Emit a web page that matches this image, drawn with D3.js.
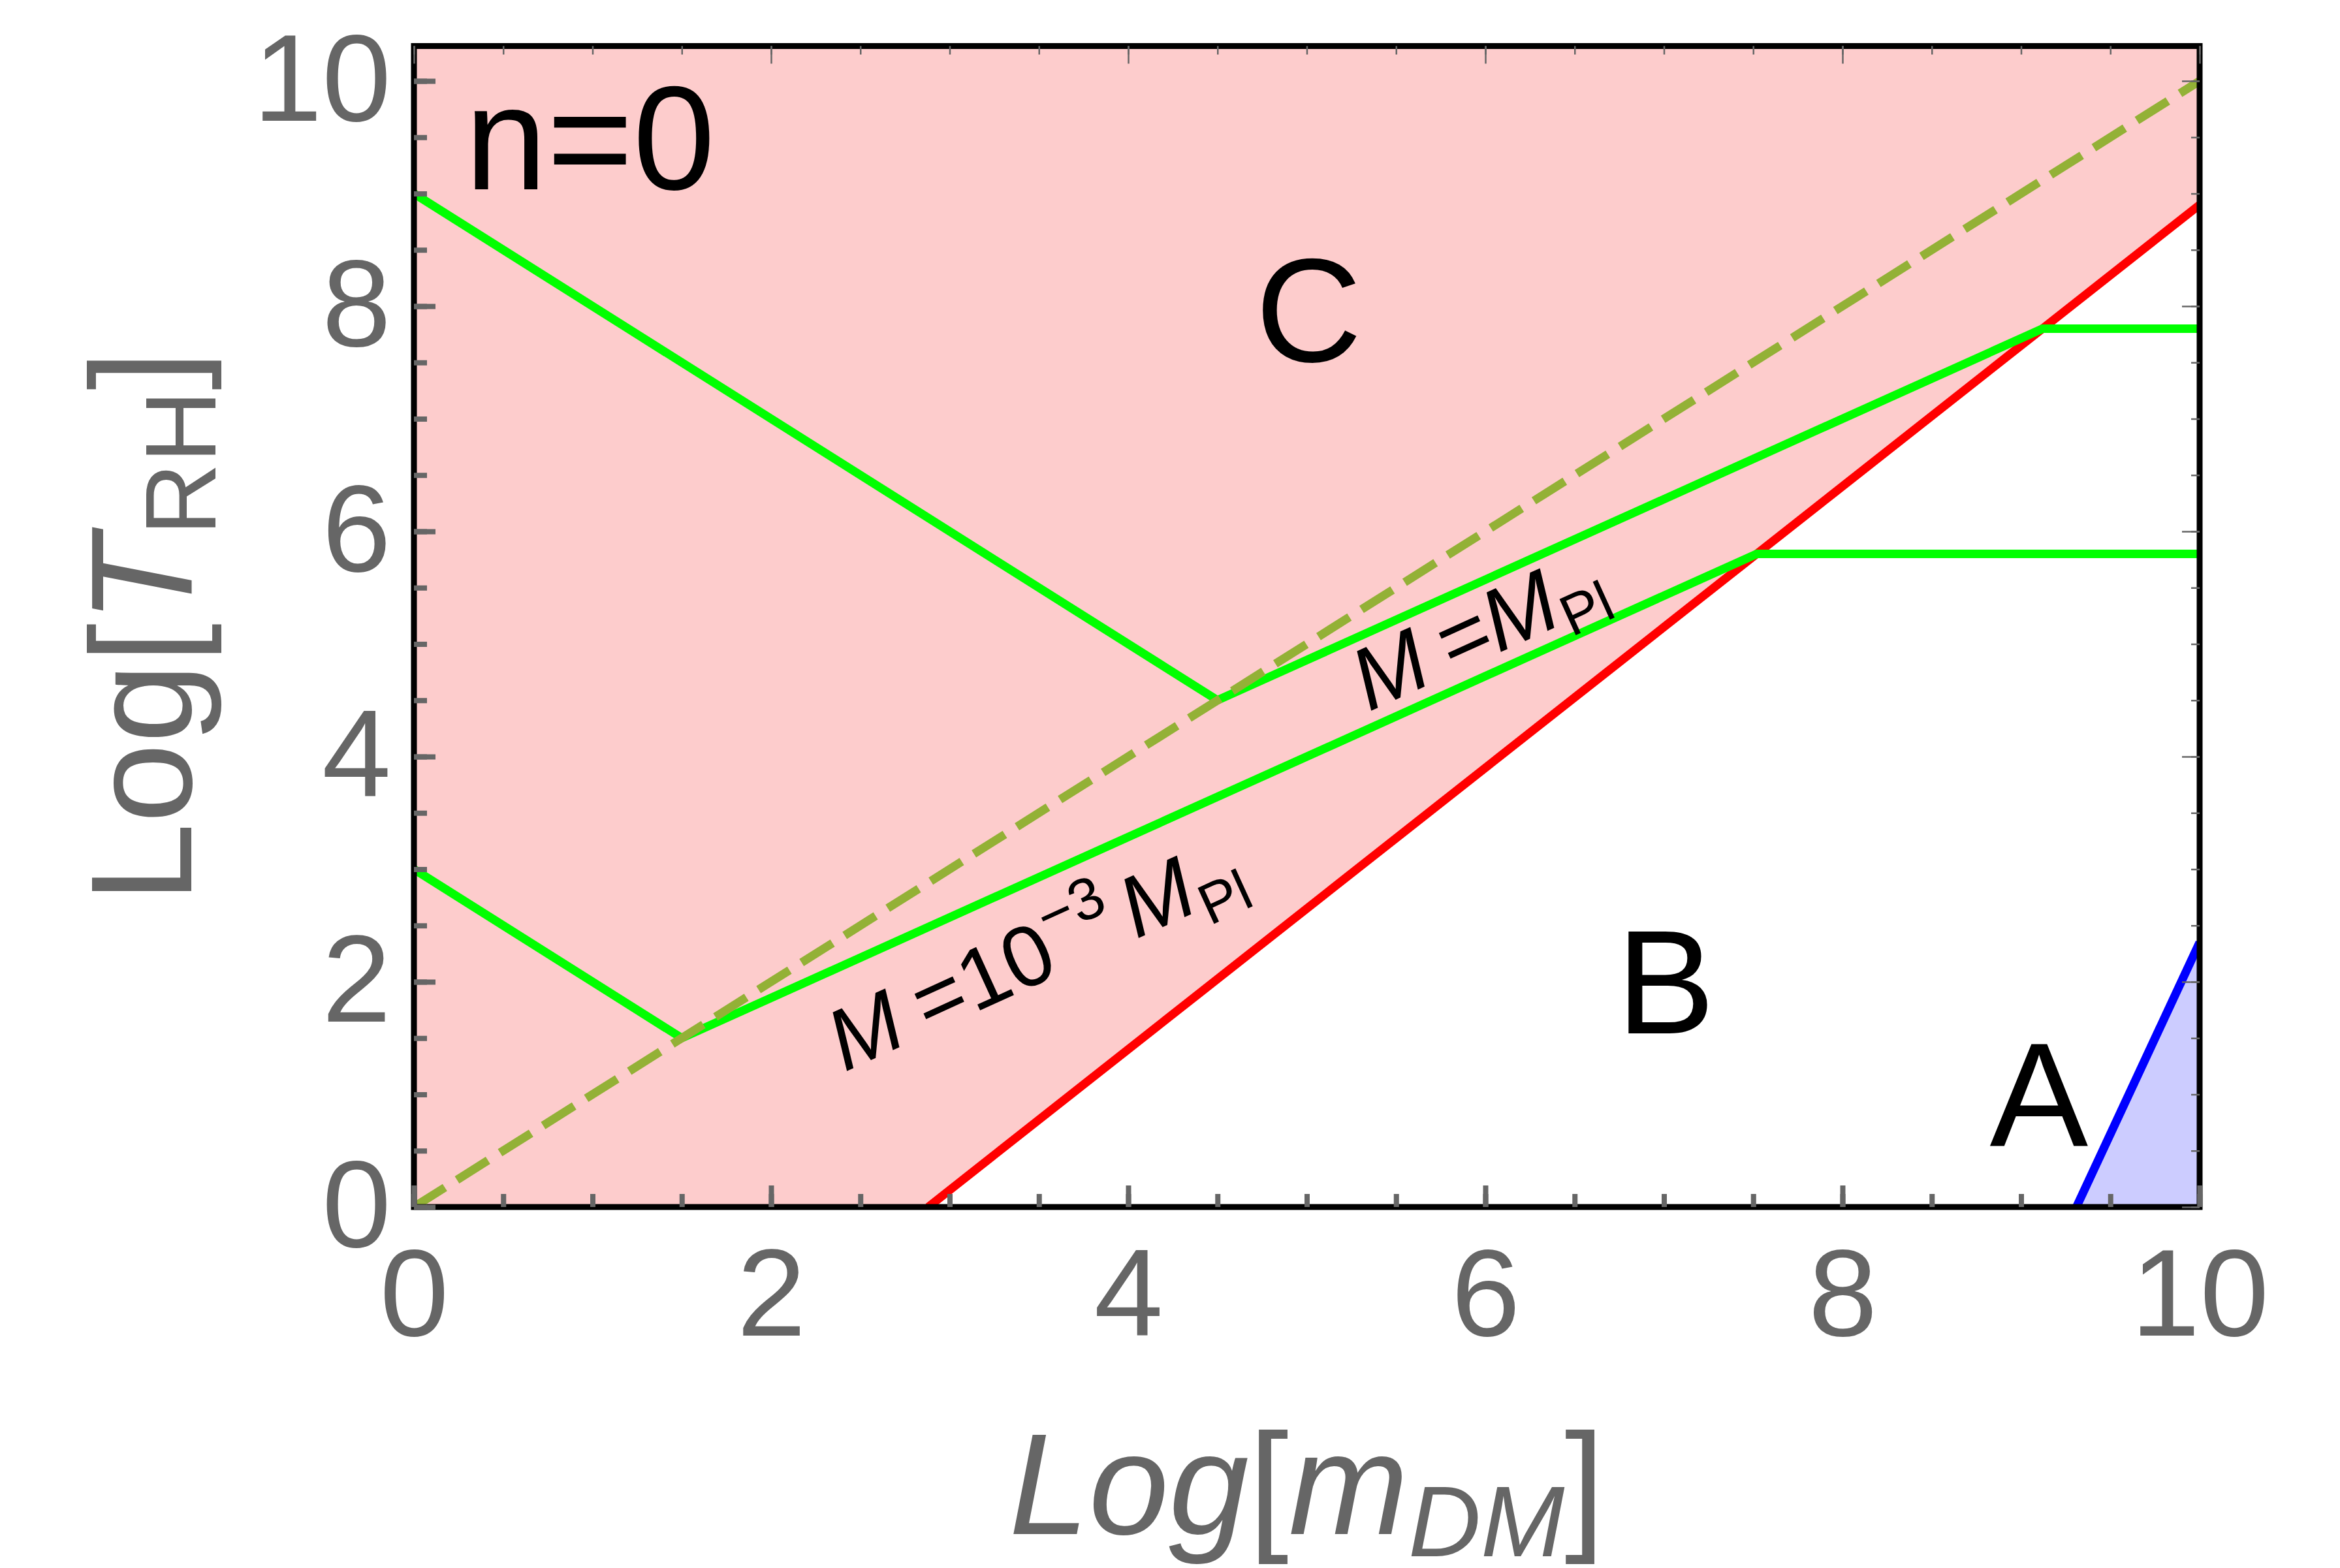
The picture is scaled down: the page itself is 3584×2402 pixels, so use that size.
<!DOCTYPE html>
<html>
<head>
<meta charset="utf-8">
<script src="https://cdn.jsdelivr.net/npm/d3@7"></script>
<style>
  html, body { margin: 0; padding: 0; background: #fff; }
  text { font-family: "Liberation Sans", Arial, sans-serif; }
</style>
</head>
<body>
<div id="chart"></div>
<script>
// axis ticks
var xMajor = [0, 2, 4, 6, 8, 10];
var yMajor = [0, 2, 4, 6, 8, 10];
var xMinor = d3.range(0, 10.01, 0.5);
var yMinor = d3.range(0, 10.01, 0.5);

// boundaries, [Log m_DM, Log T_RH]
var redBoundary = [[2.88, 0], [10, 8.9]];
var blueBoundary = [[9.31, 0], [10, 2.35]];
var greenUpper = [[0, 9], [4.5, 4.5], [9.12, 7.8], [10, 7.8]];
var greenLower = [[0, 3], [1.5, 1.5], [7.52, 5.8], [10, 5.8]];
var diagonal = [[0, 0], [10, 10]];

// region letters and the n=0 tag (data coords of the text anchor)
var regionNames = ["C", "B", "A"];
var regionPos = [[5.01, 7.51], [7.01, 1.54], [9.1, 0.54]];
var tagPos = [0.285, 9.04];

var W = 3584, H = 2402;
var yMax = 10.31;

var x = d3.scaleLinear().domain([0, 10]).range([634, 3369]);
var y = d3.scaleLinear().domain([0, 10]).range([1849, 124]);

var svg = d3.select("#chart").append("svg")
  .attr("width", W)
  .attr("height", H);

svg.append("rect").attr("width", W).attr("height", H).attr("fill", "#fff");

svg.append("defs").append("clipPath").attr("id", "plotclip")
  .append("rect")
  .attr("x", x(0)).attr("y", y(yMax))
  .attr("width", x(10) - x(0)).attr("height", y(0) - y(yMax));

var plot = svg.append("g").attr("clip-path", "url(#plotclip)");

var line = d3.line().x(function (d) { return x(d[0]); }).y(function (d) { return y(d[1]); });

// pink region above the red line
var pink = [[0, 0]].concat(redBoundary, [[10, yMax], [0, yMax]]);
plot.append("path").attr("d", line(pink) + "Z").attr("fill", "#fdcccc");

// blue region right of the blue line
var blue = blueBoundary.concat([[10, 0]]);
plot.append("path").attr("d", line(blue) + "Z").attr("fill", "#ccccff");

plot.append("path").attr("d", line(redBoundary))
  .attr("fill", "none").attr("stroke", "#ff0000").attr("stroke-width", 13);
plot.append("path").attr("d", line(blueBoundary))
  .attr("fill", "none").attr("stroke", "#0000ff").attr("stroke-width", 13);

[greenUpper, greenLower].forEach(function (g) {
  plot.append("path").attr("d", line(g))
    .attr("fill", "none").attr("stroke", "#00ff00").attr("stroke-width", 13)
    .attr("stroke-linejoin", "miter");
});

plot.append("path").attr("d", line(diagonal))
  .attr("fill", "none").attr("stroke", "#93b136").attr("stroke-width", 13)
  .attr("stroke-dasharray", "56,22");

// text in the plot
regionNames.forEach(function (name, i) {
  svg.append("text")
    .attr("x", x(regionPos[i][0])).attr("y", y(regionPos[i][1]))
    .attr("text-anchor", "middle")
    .attr("font-size", 226)
    .attr("fill", "#000")
    .text(name);
});

svg.append("text")
  .attr("x", x(tagPos[0])).attr("y", y(tagPos[1]))
  .attr("font-size", 226)
  .attr("fill", "#000")
  .text("n=0");

// M = M_Pl, along the upper green line
var lab1 = svg.append("text")
  .attr("transform", "translate(2102,1088) rotate(-24.4)")
  .attr("font-size", 134).attr("fill", "#000");
lab1.append("tspan").attr("x", -6).attr("y", 0).attr("font-style", "italic").text("M");
lab1.append("tspan").attr("x", 135).attr("y", 0).text("=");
lab1.append("tspan").attr("x", 212).attr("y", 0).attr("font-style", "italic").text("M");
lab1.append("tspan").attr("x", 324).attr("y", 24).attr("font-size", 88).text("Pl");

// M = 10^-3 M_Pl, along the lower green line
var lab2 = svg.append("text")
  .attr("transform", "translate(1299,1640) rotate(-24.5)")
  .attr("font-size", 132).attr("fill", "#000");
lab2.append("tspan").attr("x", -6).attr("y", 0).attr("font-style", "italic").text("M");
lab2.append("tspan").attr("x", 135).attr("y", 0).text("=10");
lab2.append("tspan").attr("x", 362).attr("y", -57).attr("font-size", 91).text("\u22123");
lab2.append("tspan").attr("x", 485).attr("y", 0).attr("font-style", "italic").text("M");
lab2.append("tspan").attr("x", 596).attr("y", 28).attr("font-size", 88).text("Pl");

// frame
svg.append("rect")
  .attr("x", x(0)).attr("y", y(yMax))
  .attr("width", x(10) - x(0)).attr("height", y(0) - y(yMax))
  .attr("fill", "none").attr("stroke", "#000").attr("stroke-width", 9);

function styleAxis(g, width) {
  g.select(".domain").remove();
  g.attr("color", "#666");
  g.selectAll(".tick line").attr("stroke-width", width);
  g.selectAll("text").attr("font-family", "Liberation Sans, Arial, sans-serif")
    .attr("font-size", 190).attr("fill", "#666");
}

// left / bottom: thick ticks with labels
svg.append("g").attr("transform", "translate(" + x(0) + ",0)")
  .call(d3.axisLeft(y).tickValues(yMinor).tickSize(-20).tickFormat(""))
  .call(styleAxis, 8);
svg.append("g").attr("transform", "translate(" + x(0) + ",0)")
  .call(d3.axisLeft(y).tickValues(yMajor).tickSize(-33).tickPadding(35).tickFormat(d3.format("d")))
  .call(styleAxis, 8);

svg.append("g").attr("transform", "translate(0," + y(0) + ")")
  .call(d3.axisBottom(x).tickValues(xMinor).tickSize(-20).tickFormat(""))
  .call(styleAxis, 8);
svg.append("g").attr("transform", "translate(0," + y(0) + ")")
  .call(d3.axisBottom(x).tickValues(xMajor).tickSize(-33).tickPadding(62).tickFormat(d3.format("d")))
  .call(styleAxis, 8);

// right / top: thin ticks, no labels
svg.append("g").attr("transform", "translate(" + x(10) + ",0)")
  .call(d3.axisRight(y).tickValues(yMinor).tickSize(-13).tickFormat(""))
  .call(styleAxis, 2.5);
svg.append("g").attr("transform", "translate(" + x(10) + ",0)")
  .call(d3.axisRight(y).tickValues(yMajor).tickSize(-27).tickFormat(""))
  .call(styleAxis, 2.5);
svg.append("g").attr("transform", "translate(0," + y(yMax) + ")")
  .call(d3.axisTop(x).tickValues(xMinor).tickSize(-13).tickFormat(""))
  .call(styleAxis, 2.5);
svg.append("g").attr("transform", "translate(0," + y(yMax) + ")")
  .call(d3.axisTop(x).tickValues(xMajor).tickSize(-27).tickFormat(""))
  .call(styleAxis, 2.5);

// axis titles
var xt = svg.append("text")
  .attr("x", (x(0) + x(10)) / 2).attr("y", 2350)
  .attr("text-anchor", "middle")
  .attr("font-size", 220).attr("fill", "#666");
xt.append("tspan").attr("font-style", "italic").text("Log");
xt.append("tspan").text("[");
xt.append("tspan").attr("font-style", "italic").text("m");
xt.append("tspan").attr("font-style", "italic").attr("font-size", 154).attr("dy", 34).text("DM");
xt.append("tspan").attr("dy", -34).text("]");

var yt = svg.append("text")
  .attr("transform", "translate(293,960) rotate(-90)")
  .attr("text-anchor", "middle")
  .attr("font-size", 220).attr("fill", "#666");
yt.append("tspan").text("Log[");
yt.append("tspan").attr("font-style", "italic").text("T");
yt.append("tspan").attr("font-size", 154).attr("dy", 37).text("RH");
yt.append("tspan").attr("dy", -37).text("]");
</script>
</body>
</html>
